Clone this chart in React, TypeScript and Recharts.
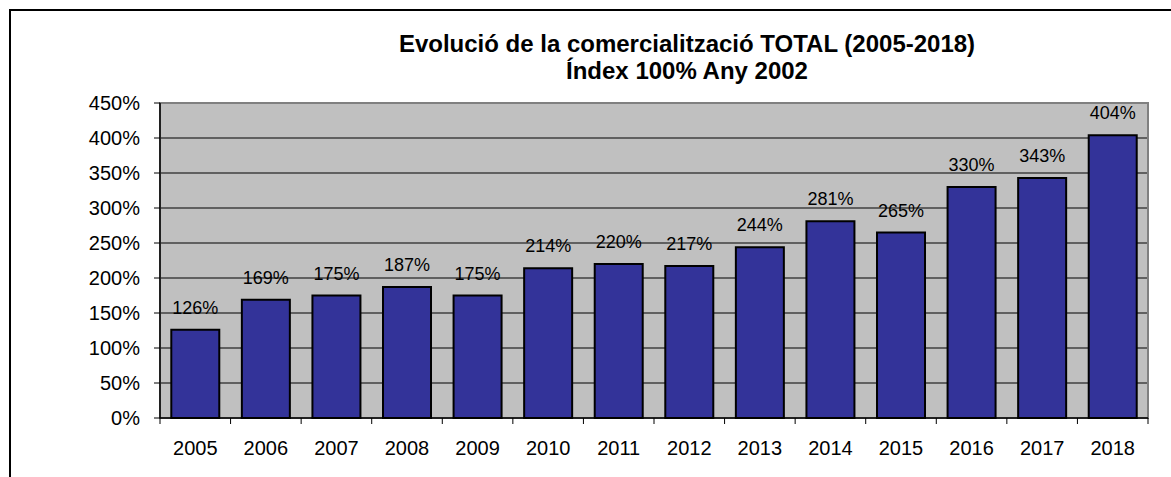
import React from 'react';
import { BarChart, Bar, XAxis, YAxis, CartesianGrid, LabelList, ReferenceArea } from 'recharts';

// Index values (100% = year 2002)
const years = ['2005', '2006', '2007', '2008', '2009', '2010', '2011', '2012', '2013', '2014', '2015', '2016', '2017', '2018'];
const indexValues = [126, 169, 175, 187, 175, 214, 220, 217, 244, 281, 265, 330, 343, 404];
const yTicks = [0, 50, 100, 150, 200, 250, 300, 350, 400, 450];

const data = years.map((year, i) => ({ year, value: indexValues[i] }));

const W = 1171;
const H = 477;
const LEFT = 160;
const RIGHT = 23;
const TOP = 103;
const BOTTOM = 59;
const FONT = '"Liberation Sans", Arial, sans-serif';

const halfBand = (W - LEFT - RIGHT) / years.length / 2;

const XTick = (props: any) => {
  const { x, y, payload, index } = props;
  const axisY = y - 8;
  return (
    <g>
      <line x1={x - halfBand} y1={axisY} x2={x - halfBand} y2={axisY + 6} stroke="#000" strokeWidth={1} />
      {index === years.length - 1 && (
        <line x1={x + halfBand} y1={axisY} x2={x + halfBand} y2={axisY + 6} stroke="#000" strokeWidth={1} />
      )}
      <text x={x} y={axisY + 37} textAnchor="middle" fontSize={20} fontFamily={FONT} fill="#000">
        {payload.value}
      </text>
    </g>
  );
};

const App: React.FC = () => {
  return (
    <div style={{ position: 'absolute', left: 0, top: 0, width: W, height: H, background: '#fff', overflow: 'hidden' }}>
      {/* frame */}
      <div style={{ position: 'absolute', left: 9, top: 9, width: W, height: H, borderLeft: '2px solid #000', borderTop: '2px solid #000' }} />
      <div
        style={{
          position: 'absolute',
          left: 337,
          top: 30,
          width: 700,
          textAlign: 'center',
          fontFamily: FONT,
          fontWeight: 'bold',
          fontSize: 24,
          lineHeight: '27px',
          color: '#000',
        }}
      >
        Evolució de la comercialització TOTAL (2005-2018)
        <br />
        Índex 100% Any 2002
      </div>
      <div style={{ position: 'absolute', left: 0, top: 0 }}>
        <BarChart
          width={W}
          height={H}
          data={data}
          margin={{ top: TOP, right: RIGHT, left: 0, bottom: 0 }}
          barCategoryGap="16%"
        >
          <CartesianGrid fill="#c0c0c0" stroke="#000" vertical={false} horizontalValues={yTicks} />
          <ReferenceArea x1="2005" x2="2018" y1={0} y2={450} fill="none" stroke="#808080" strokeWidth={2} ifOverflow="extendDomain" />
          <XAxis
            dataKey="year"
            height={BOTTOM}
            axisLine={{ stroke: '#000', strokeWidth: 1.5 }}
            tickLine={false}
            tick={<XTick />}
            interval={0}
          />
          <YAxis
            width={LEFT}
            domain={[0, 450]}
            ticks={yTicks}
            tickFormatter={(v: number) => `${v}%`}
            axisLine={{ stroke: '#000', strokeWidth: 1.5 }}
            tickLine={{ stroke: '#000' }}
            tickSize={6}
            tickMargin={14}
            tick={{ fill: '#000', fontSize: 20, fontFamily: FONT }}
          />
          <Bar dataKey="value" fill="#333399" stroke="#000" strokeWidth={2} isAnimationActive={false}>
            <LabelList
              dataKey="value"
              position="top"
              offset={16}
              formatter={(v: any) => `${v}%`}
              style={{ fill: '#000', fontSize: 18, fontFamily: FONT }}
            />
          </Bar>
        </BarChart>
      </div>
    </div>
  );
};

export default App;
